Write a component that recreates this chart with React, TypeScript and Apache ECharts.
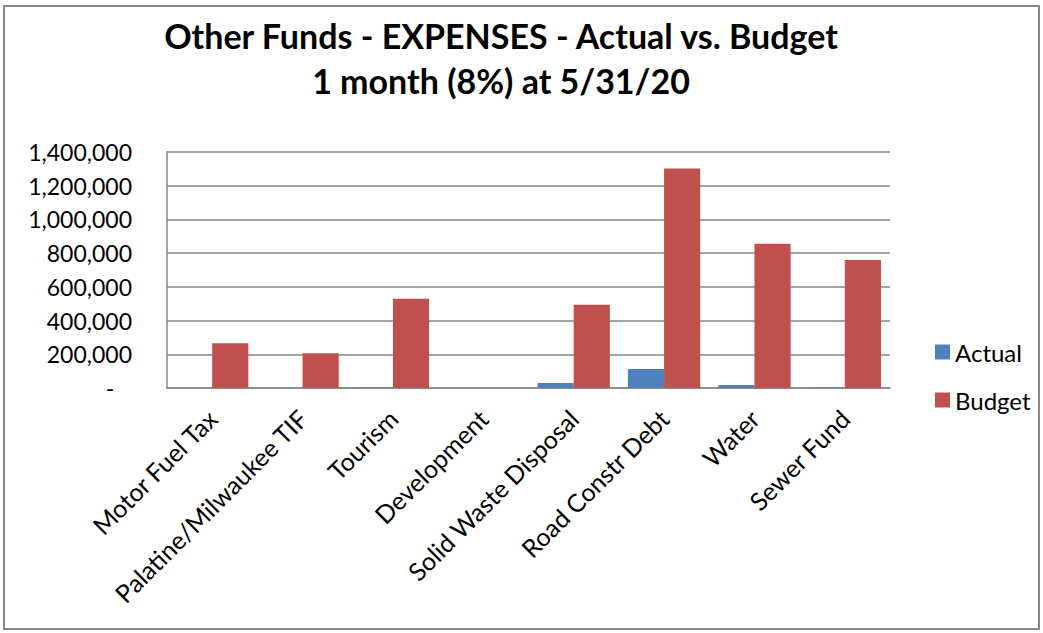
import React, { useEffect, useRef } from "react";
import * as echarts from "echarts";

const categories = [
  "Motor Fuel Tax",
  "Palatine/Milwaukee TIF",
  "Tourism",
  "Development",
  "Solid Waste Disposal",
  "Road Constr Debt",
  "Water",
  "Sewer Fund",
];
const actualValues = [0, 0, 3000, 0, 29000, 112000, 18000, 3000];
const budgetValues = [265000, 206000, 529000, 0, 494000, 1302000, 855000, 760000];
const yTicks = { min: 0, max: 1400000, interval: 200000 };
const titleText = "Other Funds - EXPENSES - Actual vs. Budget\n1 month (8%) at 5/31/20";

const FONT = "Lato, 'Open Sans', sans-serif";

export default function App() {
  const ref = useRef<HTMLDivElement>(null);
  useEffect(() => {
    if (!ref.current) return;
    const chart = echarts.init(ref.current, undefined, { renderer: "svg" });
    chart.setOption({
      animation: false,
      backgroundColor: "#ffffff",
      textStyle: { fontFamily: FONT, color: "#000" },
      title: {
        text: titleText,
        left: 496,
        top: 8,
        textAlign: "center",
        textStyle: {
          fontFamily: FONT,
          fontSize: 34,
          fontWeight: "bold",
          color: "#000",
          lineHeight: 45,
        },
      },
      graphic: [
        {
          type: "rect",
          shape: { x: 4, y: 6, width: 1035, height: 623 },
          style: { fill: "none", stroke: "#868686", lineWidth: 2 },
          silent: true,
        },
      ],
      legend: {
        orient: "vertical",
        left: 930,
        top: 335,
        itemWidth: 15,
        itemHeight: 15,
        itemGap: 24,
        icon: "rect",
        data: ["Actual", "Budget"],
        textStyle: { fontFamily: FONT, fontSize: 24, color: "#000", padding: [0, 0, 0, 0] },
      },
      grid: { left: 167, right: 153, top: 152, bottom: 245, containLabel: false },
      xAxis: {
        type: "category",
        data: categories,
        axisLine: { show: true, lineStyle: { color: "#868686", width: 1.5 } },
        axisTick: { show: false },
        axisLabel: {
          rotate: 45,
          interval: 0,
          margin: 26,
          fontFamily: FONT,
          fontSize: 25,
          color: "#000",
        },
      },
      yAxis: {
        type: "value",
        min: yTicks.min,
        max: yTicks.max,
        interval: yTicks.interval,
        axisLine: { show: true, lineStyle: { color: "#868686", width: 1.5 } },
        axisTick: { show: false },
        splitLine: { show: true, lineStyle: { color: "#868686", width: 1.5 } },
        axisLabel: {
          margin: 35,
          fontFamily: FONT,
          fontSize: 23,
          color: "#000",
          formatter: (v: number) => (v === 0 ? "-   " : v.toLocaleString("en-US")),
        },
      },
      series: [
        {
          name: "Actual",
          type: "bar",
          data: actualValues,
          itemStyle: { color: "#4F81BD" },
          barGap: "0%",
          barCategoryGap: "20%",
        },
        {
          name: "Budget",
          type: "bar",
          data: budgetValues,
          itemStyle: { color: "#C0504D" },
          barGap: "0%",
          barCategoryGap: "20%",
        },
      ],
    });
    return () => chart.dispose();
  }, []);
  return (
    <div
      ref={ref}
      style={{ position: "fixed", left: 0, top: 0, width: 1043, height: 633 }}
    />
  );
}
